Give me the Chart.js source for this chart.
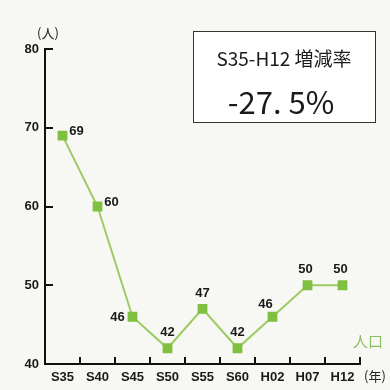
<!DOCTYPE html>
<html>
<head>
<meta charset="utf-8">
<script src="https://cdn.jsdelivr.net/npm/chart.js@4.4.1/dist/chart.umd.min.js"></script>
<style>
  html, body { margin: 0; padding: 0; background: #f7f7f4; }
  #wrap { width: 390px; height: 390px; position: relative; }
</style>
</head>
<body>
<div id="wrap"><canvas id="c" width="390" height="390"></canvas></div>
<script>
// 年次と人口（人）
const years = ['S35', 'S40', 'S45', 'S50', 'S55', 'S60', 'H02', 'H07', 'H12'];
const population = [69, 60, 46, 42, 47, 42, 46, 50, 50];
const yTicks = [40, 50, 60, 70, 80];
const boxTitle = 'S35-H12 増減率';
const boxValue = '-27. 5%';

// label offsets from each point (px)
const labelOffsets = [
  [14, -4], [14, -4], [-15, 1], [0, -16], [0, -15],
  [0, -16], [-7, -12], [-2, -16], [-2, -16]
];

const LABEL_FONT = 'bold 13px "Liberation Sans Narrow", "Liberation Sans", Arial, sans-serif';
const GREEN_LINE = '#9bcb62';
const GREEN_PT = '#80c040';

const decor = {
  id: 'decor',
  afterDraw(chart) {
    const ctx = chart.ctx;
    const x = chart.scales.x, y = chart.scales.y;
    const area = chart.chartArea;
    ctx.save();
    // inward tick marks: between categories on x, at each value on y
    ctx.strokeStyle = '#111';
    ctx.lineWidth = 2;
    const step = x.getPixelForValue(1) - x.getPixelForValue(0);
    for (let i = 0; i < years.length; i++) {
      const px = Math.round(x.getPixelForValue(i) + step / 2);
      ctx.beginPath();
      ctx.moveTo(px, area.bottom);
      ctx.lineTo(px, area.bottom - 7);
      ctx.stroke();
    }
    yTicks.slice(1).forEach(v => {
      const py = Math.round(y.getPixelForValue(v));
      ctx.beginPath();
      ctx.moveTo(area.left, py);
      ctx.lineTo(area.left + 8, py);
      ctx.stroke();
    });
    // value labels
    ctx.fillStyle = '#1a1a1a';
    ctx.font = LABEL_FONT;
    ctx.textAlign = 'center';
    ctx.textBaseline = 'middle';
    const meta = chart.getDatasetMeta(0);
    meta.data.forEach((pt, i) => {
      const o = labelOffsets[i];
      ctx.fillText(String(population[i]), pt.x + o[0], pt.y + o[1]);
    });
    // unit labels
    ctx.font = '13px "Noto Sans CJK JP", sans-serif';
    ctx.fillStyle = '#222';
    ctx.fillText('(人)', 48, 33);
    ctx.fillText('(年)', 375, 376);
    ctx.font = '15px "Noto Sans CJK JP", sans-serif';
    ctx.fillStyle = '#8cc060';
    ctx.fillText('人口', 368, 341);
    // rate box
    ctx.fillStyle = '#ffffff';
    ctx.fillRect(193.5, 31.5, 182, 91);
    ctx.strokeStyle = '#333';
    ctx.lineWidth = 1;
    ctx.strokeRect(193.5, 31.5, 182, 91);
    ctx.fillStyle = '#1a1a1a';
    ctx.font = '19px "Noto Sans CJK JP", sans-serif';
    ctx.fillText(boxTitle, 284, 59);
    ctx.font = '31px "Noto Sans CJK JP", sans-serif';
    ctx.fillText(boxValue, 281, 102);
    ctx.restore();
  }
};

new Chart(document.getElementById('c'), {
  type: 'line',
  data: {
    labels: years,
    datasets: [{
      data: population,
      borderColor: GREEN_LINE,
      borderWidth: 2,
      pointStyle: 'rect',
      pointRadius: 5.5,
      pointBackgroundColor: GREEN_PT,
      pointBorderColor: GREEN_PT,
      tension: 0
    }]
  },
  options: {
    responsive: false,
    animation: false,
    events: [],
    layout: { padding: { left: 0, right: 30, top: 49, bottom: 0 } },
    plugins: { legend: { display: false }, tooltip: { enabled: false } },
    scales: {
      x: {
        offset: true,
        grid: { display: false, drawTicks: false },
        border: { display: true, color: '#111', width: 2 },
        ticks: {
          color: '#1a1a1a',
          font: { family: '"Liberation Sans Narrow", "Liberation Sans", Arial, sans-serif', size: 13, weight: 'bold' },
          padding: 6,
          maxRotation: 0,
          autoSkip: false
        },
        afterFit(s) { s.height = 26; }
      },
      y: {
        min: 40, max: 80,
        afterBuildTicks(s) { s.ticks = yTicks.map(v => ({ value: v })); },
        grid: { display: false, drawTicks: false },
        border: { display: true, color: '#111', width: 2 },
        ticks: {
          color: '#1a1a1a',
          font: { family: '"Liberation Sans Narrow", "Liberation Sans", Arial, sans-serif', size: 13, weight: 'bold' },
          padding: 6
        },
        afterFit(s) { s.width = 45; }
      }
    }
  },
  plugins: [decor]
});
</script>
</body>
</html>
